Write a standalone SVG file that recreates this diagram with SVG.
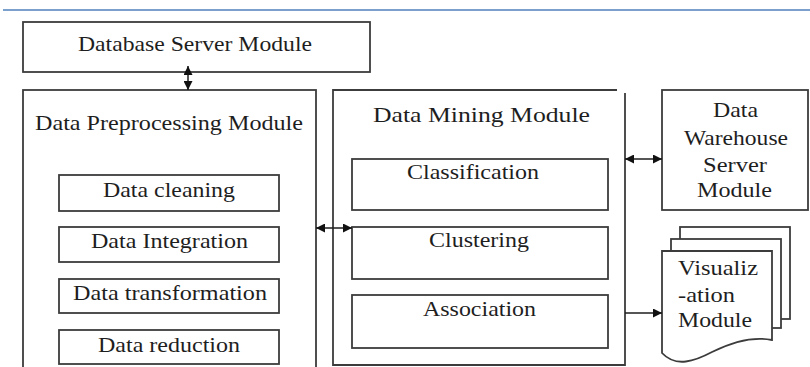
<svg xmlns="http://www.w3.org/2000/svg" width="810" height="367" viewBox="0 0 810 367" font-family="Liberation Serif, DejaVu Serif, serif">
  <style>
    .box { fill: #ffffff; stroke: #3c3c3c; stroke-width: 1.8; }
    .edge { fill: none; stroke: #3c3c3c; stroke-width: 1.8; }
    .lbl { font-size: 22px; fill: #1e1e1e; }
    .link { fill: none; stroke: #1e1e1e; stroke-width: 1.5; }
  </style>
  <defs>
    <marker id="head" viewBox="0 0 10 10" refX="10" refY="5" markerUnits="userSpaceOnUse" markerWidth="9" markerHeight="9" orient="auto-start-reverse">
      <path d="M0,0 L10,5 L0,10 z" fill="#111111"/>
    </marker>
  </defs>

  <rect width="810" height="367" fill="#ffffff"/>
  <!-- header rule -->
  <line x1="3" y1="10" x2="810" y2="10" stroke="#4f81bd" stroke-width="1.6"/>

  <g id="database-server">
    <rect class="box" x="23" y="22" width="347" height="50"/>
    <text class="lbl" x="78" y="51" textLength="234" lengthAdjust="spacingAndGlyphs">Database Server Module</text>
  </g>

  <g id="preprocessing">
    <rect class="box" x="23" y="90" width="293" height="290"/>
    <text class="lbl" x="35" y="130" textLength="268" lengthAdjust="spacingAndGlyphs">Data Preprocessing Module</text>
  </g>
  <g id="data-cleaning">
    <rect class="box" x="59" y="175" width="220" height="36"/>
    <text class="lbl" x="103" y="197" textLength="132" lengthAdjust="spacingAndGlyphs">Data cleaning</text>
  </g>
  <g id="data-integration">
    <rect class="box" x="59" y="227" width="220" height="35"/>
    <text class="lbl" x="91" y="248" textLength="157" lengthAdjust="spacingAndGlyphs">Data Integration</text>
  </g>
  <g id="data-transformation">
    <rect class="box" x="59" y="279" width="220" height="34"/>
    <text class="lbl" x="73" y="300" textLength="194" lengthAdjust="spacingAndGlyphs">Data transformation</text>
  </g>
  <g id="data-reduction">
    <rect class="box" x="59" y="330" width="220" height="34"/>
    <text class="lbl" x="98" y="352" textLength="142" lengthAdjust="spacingAndGlyphs">Data reduction</text>
  </g>

  <g id="data-mining">
    <path class="edge" d="M617,90 H333 V365 H625 V93"/>
    <text class="lbl" x="373" y="122" textLength="217" lengthAdjust="spacingAndGlyphs">Data Mining Module</text>
  </g>
  <g id="classification">
    <rect class="box" x="352" y="159" width="256" height="51"/>
    <text class="lbl" x="407" y="179" textLength="132" lengthAdjust="spacingAndGlyphs">Classification</text>
  </g>
  <g id="clustering">
    <rect class="box" x="352" y="227" width="256" height="52"/>
    <text class="lbl" x="429" y="247" textLength="100" lengthAdjust="spacingAndGlyphs">Clustering</text>
  </g>
  <g id="association">
    <rect class="box" x="352" y="295" width="256" height="53"/>
    <text class="lbl" x="423" y="316" textLength="113" lengthAdjust="spacingAndGlyphs">Association</text>
  </g>

  <g id="data-warehouse">
    <rect class="box" x="662" y="90" width="146" height="120"/>
    <text class="lbl" x="713" y="117" textLength="45" lengthAdjust="spacingAndGlyphs">Data</text>
    <text class="lbl" x="684" y="145" textLength="104" lengthAdjust="spacingAndGlyphs">Warehouse</text>
    <text class="lbl" x="703" y="172" textLength="64" lengthAdjust="spacingAndGlyphs">Server</text>
    <text class="lbl" x="697" y="197" textLength="75" lengthAdjust="spacingAndGlyphs">Module</text>
  </g>

  <g id="visualization">
    <rect class="box" x="680" y="227" width="110" height="92"/>
    <rect class="box" x="671" y="239" width="110" height="89"/>
    <path class="box" d="M662,251 H772 V340 C752,336 732,342 712,352 C695,361 676,368 662,353 Z"/>
    <text class="lbl" x="678" y="275" textLength="80" lengthAdjust="spacingAndGlyphs">Visualiz</text>
    <text class="lbl" x="678" y="302" textLength="57" lengthAdjust="spacingAndGlyphs">-ation</text>
    <text class="lbl" x="678" y="327" textLength="74" lengthAdjust="spacingAndGlyphs">Module</text>
  </g>

  <g id="connectors">
    <line class="link" x1="188" y1="66" x2="188" y2="90" marker-start="url(#head)" marker-end="url(#head)"/>
    <line class="link" x1="316" y1="228" x2="352" y2="228" marker-start="url(#head)" marker-end="url(#head)"/>
    <line class="link" x1="625" y1="159" x2="662" y2="159" marker-start="url(#head)" marker-end="url(#head)"/>
    <line class="link" x1="625" y1="313" x2="662" y2="313" marker-end="url(#head)"/>
  </g>
</svg>
